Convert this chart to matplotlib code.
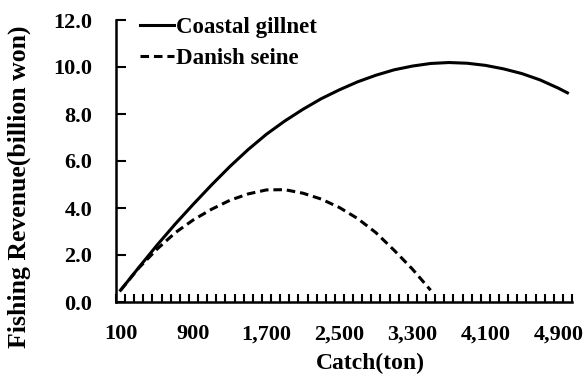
import numpy as np
import matplotlib.pyplot as plt
from matplotlib.ticker import FixedLocator, FuncFormatter

# catch (ton) and revenue (billion won)
catch_gillnet = [100, 300, 500, 700, 900, 1100, 1300, 1500, 1700, 1900, 2100, 2300, 2500,
                 2700, 2900, 3100, 3300, 3500, 3700, 3900, 4100, 4300, 4500, 4700, 4900, 5000]
rev_gillnet = [0.5, 1.47, 2.42, 3.32, 4.17, 4.99, 5.77, 6.49, 7.14, 7.7, 8.2, 8.65, 9.03,
               9.37, 9.65, 9.88, 10.04, 10.15, 10.19, 10.16, 10.07, 9.92, 9.72, 9.45, 9.1, 8.9]

catch_seine = [100, 300, 500, 700, 900, 1100, 1300, 1500, 1700, 1900, 2100, 2300, 2500,
               2700, 2900, 3100, 3300, 3500]
rev_seine = [0.5, 1.45, 2.25, 2.95, 3.5, 3.95, 4.33, 4.6, 4.77, 4.78, 4.63, 4.38, 4.02,
             3.55, 2.95, 2.2, 1.4, 0.5]

xtick_labels = [100, 900, 1700, 2500, 3300, 4100, 4900]
ytick_labels = [0, 2, 4, 6, 8, 10, 12]

plt.rcParams['font.family'] = 'Liberation Serif'
plt.rcParams['font.weight'] = 'bold'

fig = plt.figure(figsize=(5.86, 3.74), dpi=100)
ax = fig.add_axes([116/586, 1-302/374, (572-116)/586, (302-20)/374])

ax.plot(catch_gillnet, rev_gillnet, color='black', lw=2.2, label='Coastal gillnet')
ax.plot(catch_seine, rev_seine, color='black', lw=2.2, ls=(0, (2.8, 1.6)), label='Danish seine')

ax.set_xlim(50, 5050)
ax.set_ylim(0, 12)

ax.xaxis.set_major_locator(FixedLocator(xtick_labels))
ax.xaxis.set_major_formatter(FuncFormatter(lambda v, p: f'{int(v):,}'))
ax.xaxis.set_minor_locator(FixedLocator(np.arange(50, 5051, 100)))
ax.tick_params(axis='x', which='major', length=0, pad=16, labelsize=16)
ax.tick_params(axis='x', which='minor', direction='in', length=6, width=1.5)

ax.set_yticks(ytick_labels)
ax.yaxis.set_major_formatter(FuncFormatter(lambda v, p: f'{v:.1f}'))
ax.tick_params(axis='y', direction='in', length=7, width=1.5, pad=17, labelsize=16)

for s in ['top', 'right']:
    ax.spines[s].set_visible(False)
for s in ['left', 'bottom']:
    ax.spines[s].set_linewidth(1.8)

fig.text(370/586, 1-363/374, 'Catch(ton)', ha='center', va='center', fontsize=17, fontweight='bold')
fig.text(19/586, 1-187/374, 'Fishing Revenue(billion won)', ha='center', va='center',
         rotation=90, fontsize=18.5, fontweight='bold')

ax.legend(loc='upper left', bbox_to_anchor=(140/586, 1-17/374), bbox_transform=fig.transFigure,
          frameon=False, fontsize=16.5, handlelength=1.5, handletextpad=0.05,
          labelspacing=0.45, borderaxespad=0, borderpad=0)

fig.savefig('out.png', dpi=100)
